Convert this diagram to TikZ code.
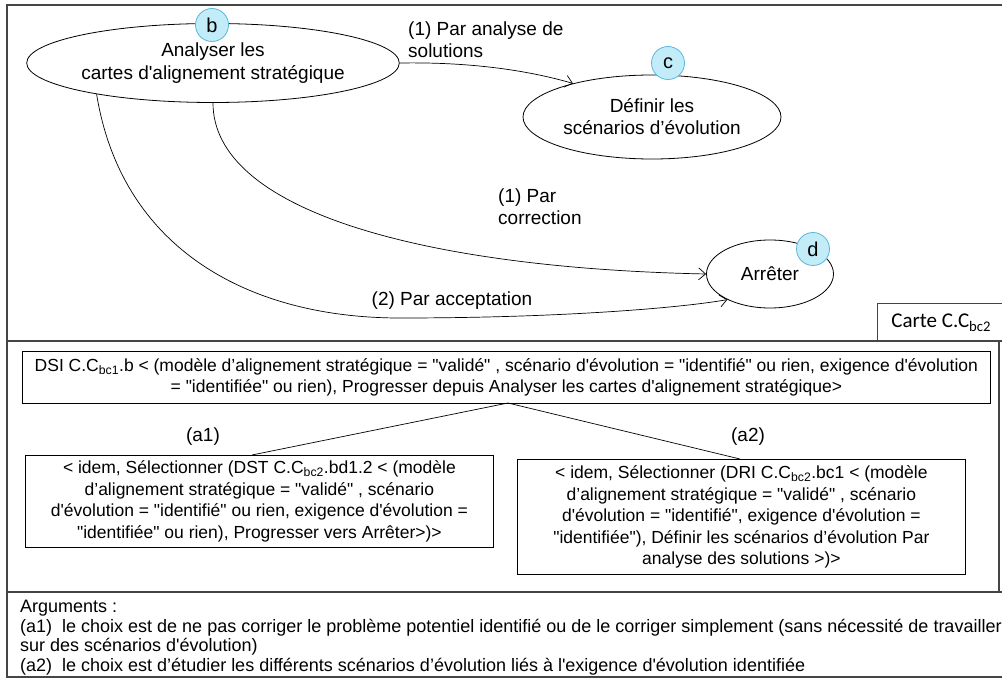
\documentclass[tikz,border=0pt]{standalone}
\usepackage{fontspec}
\setmainfont{Liberation Sans}[Ligatures=TeXOff]
\newfontfamily\calibri{Carlito}[Ligatures=TeXOff]
\usetikzlibrary{shapes.geometric,arrows.meta}
\definecolor{tagfill}{HTML}{C2ECF8}
\definecolor{tagdraw}{HTML}{5BB8DC}
\definecolor{framecol}{HTML}{454545}
\begin{document}
\begin{tikzpicture}[x=1pt,y=-1pt,
  every node/.style={font=\fontsize{19}{22}\selectfont},
  state/.style={ellipse, draw, line width=0.8pt, inner sep=0pt, align=center},
  tag/.style={circle, draw=tagdraw, fill=tagfill, line width=0.8pt, minimum size=33pt, inner sep=0pt, font=\fontsize{20}{20}\selectfont},
  arr/.style={-{Straight Barb[length=7pt,width=12pt]}, line width=0.7pt},
  lbl/.style={align=left, anchor=north west, inner sep=0pt},
  txtbox/.style={draw, line width=0.8pt, align=center, inner sep=2pt, anchor=north west, font=\fontsize{17.5}{21.5}\selectfont},
  framel/.style={draw=framecol, line width=1.6pt},
  conn/.style={line width=0.7pt}
]
\useasboundingbox (0,0) rectangle (1002,679);

% frame
\draw[framel] (1002,5) -- (7,5) -- (7,677) -- (1002,677);
\draw[framel] (7,341) -- (1002,341);
\draw[framel] (7,592) -- (1002,592);
\draw[framel] (999,341) -- (999,592);

% carte box
\node[draw=framecol, line width=1.4pt, minimum width=127pt, minimum height=38pt, anchor=north west, inner sep=0pt, font=\calibri\fontsize{21}{21}\selectfont] (carte) at (877,303) {Carte C.C\textsubscript{bc2}};

% states
\node[state, minimum width=306pt, minimum height=79pt, font=\fontsize{19}{23}\selectfont] (b) at (213,63) {Analyser les\\cartes d'alignement stratégique};
\node[state, minimum width=258pt, minimum height=84pt] (c) at (652,117) {Définir les\\scénarios d’évolution};
\node[state, minimum width=127pt, minimum height=68pt] (d) at (770,274) {Arrêter};

% edges
\draw[arr] (b.east) .. controls (460,62) and (520,68) .. (c.157);
\draw[arr] (b.south) .. controls (213,210) and (420,268) .. (d.west);
\draw[arr] (b.195) .. controls (122,250) and (250,318) .. (400,318) .. controls (560,318) and (680,308) .. (d.211);

% labels
\node[lbl] (l1) at (408,22) {(1) Par analyse de\\solutions};
\node[lbl] (l2) at (498,189) {(1) Par\\correction};
\node (l3) at (452,301) {(2) Par acceptation};

% tags
\node[tag] (tb) at (212,25) {b};
\node[tag] (tc) at (668,63) {c};
\node[tag] (td) at (813,249) {d};

% middle section
\node[txtbox, minimum width=968pt, minimum height=52pt] (top) at (22,351) {DSI C.C\textsubscript{bc1}.b < (modèle d’alignement stratégique = "validé" , scénario d'évolution = "identifié" ou rien, exigence d'évolution\\= "identifiée" ou rien), Progresser depuis Analyser les cartes d'alignement stratégique>};
\node (a1) at (203,437) {(a1)};
\node (a2) at (748,437) {(a2)};
\node[txtbox, minimum width=468pt, minimum height=92pt] (lb) at (25,455) {< idem, Sélectionner (DST C.C\textsubscript{bc2}.bd1.2 < (modèle\\d’alignement stratégique = "validé" , scénario\\d'évolution = "identifié" ou rien, exigence d'évolution =\\"identifiée" ou rien), Progresser vers Arrêter>)>};
\node[txtbox, minimum width=448pt, minimum height=115pt] (rb) at (517,459) {< idem, Sélectionner (DRI C.C\textsubscript{bc2}.bc1 < (modèle\\d’alignement stratégique = "validé" , scénario\\d'évolution = "identifié", exigence d'évolution =\\"identifiée"), Définir les scénarios d’évolution Par\\analyse des solutions >)>};
\coordinate (ap) at (508,403);
\coordinate (lt) at (252,455);
\coordinate (rt) at (740,459);
\draw[conn] (ap) -- (lt);
\draw[conn] (ap) -- (rt);

% arguments
\node[lbl, font=\fontsize{18}{19.5}\selectfont] (args) at (20,600) {Arguments :\\(a1)\ \ le choix est de ne pas corriger le problème potentiel identifié ou de le corriger simplement (sans nécessité de travailler\\sur des scénarios d'évolution)\\(a2)\ \ le choix est d’étudier les différents scénarios d’évolution liés à l'exigence d'évolution identifiée};
\end{tikzpicture}
\end{document}
